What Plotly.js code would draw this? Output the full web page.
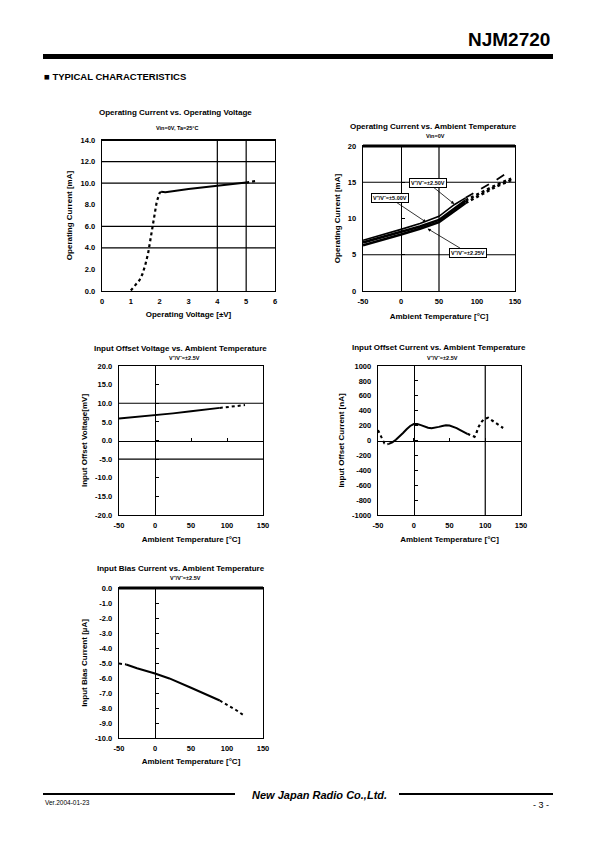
<!DOCTYPE html>
<html>
<head>
<meta charset="utf-8">
<script src="https://cdn.plot.ly/plotly-3.0.1.min.js"></script>
<style>
html,body{margin:0;padding:0;background:#fff;}
#chart{width:595px;height:842px;}
</style>
</head>
<body>
<div id="chart"></div>
<script>
// ---------------- DATA ----------------
// Chart 1: Operating Current vs. Operating Voltage
const c1VoltRise = [1.0, 1.1, 1.2, 1.3, 1.4, 1.5, 1.6, 1.7, 1.8, 1.9, 2.0, 2.05];
const c1CurrRise = [0.05, 0.4, 0.75, 1.0, 1.55, 2.4, 3.5, 5.1, 6.7, 8.3, 9.1, 9.2];
const c1VoltFlat = [2.05, 2.2, 3.0, 4.0, 5.0];
const c1CurrFlat = [9.2, 9.15, 9.45, 9.75, 10.05];
const c1VoltExt = [5.0, 5.35];
const c1CurrExt = [10.05, 10.2];

// Chart 2: Operating Current vs. Ambient Temperature
const c2Temp = [-50, -25, 0, 25, 50, 70, 85];
const c2TempExt = [85, 100, 125, 145];
const c2Icc250 = [7.0, 7.7, 8.5, 9.3, 10.3, 11.9, 12.85];
const c2Icc250Ext = [12.85, 13.8, 15.3, 16.7];
const c2Icc500 = [6.7, 7.4, 8.1, 8.9, 9.8, 11.3, 12.5];
const c2Icc500Ext = [12.5, 13.3, 14.6, 15.5];
const c2Icc225 = [6.3, 7.0, 7.8, 8.6, 9.5, 11.0, 12.15];
const c2Icc225Ext = [12.15, 13.0, 14.4, 15.3];
const c2Labels = ["V⁺/V⁻=±2.50V", "V⁺/V⁻=±5.00V", "V⁺/V⁻=±2.25V"];
const c2LabelTemp = [70, 33, 35];
const c2LabelIcc = [12.0, 9.5, 8.6];

// Chart 3: Input Offset Voltage vs. Ambient Temperature
const c3Temp = [-50, -25, 0, 25, 50, 75, 90];
const c3Vio = [5.9, 6.3, 6.8, 7.3, 7.85, 8.4, 8.75];
const c3TempExt = [90, 110, 125];
const c3VioExt = [8.75, 9.2, 9.5];

// Chart 4: Input Offset Current vs. Ambient Temperature
const c4TempL = [-50, -47, -44, -41, -38, -35];
const c4IioL = [140, 80, 10, -40, -52, -45];
const c4Temp = [-35, -30, -25, -20, -15, -10, -5, 0, 5, 10, 15, 20, 25, 30, 35, 40, 45, 50, 55, 60, 65, 70, 75];
const c4Iio = [-45, -25, 10, 50, 100, 150, 195, 220, 220, 207, 187, 172, 165, 170, 183, 194, 203, 200, 187, 166, 140, 115, 90];
const c4TempR = [75, 80, 85, 87, 90, 94, 98, 104, 111, 118, 125];
const c4IioR = [90, 70, 50, 80, 170, 240, 285, 305, 258, 205, 168];

// Chart 5: Input Bias Current vs. Ambient Temperature
const c5TempL = [-50, -40];
const c5IbL = [-5.04, -5.1];
const c5Temp = [-40, -25, 0, 20, 50, 70, 90];
const c5Ib = [-5.1, -5.35, -5.7, -6.03, -6.65, -7.05, -7.5];
const c5TempR = [90, 113, 125];
const c5IbR = [-7.5, -8.15, -8.55];

// Grid lines
const grid1X = [4, 5];
const grid1Y = [4, 6, 10, 12];
const grid2X = [50];
const grid2Y = [5, 15];
const grid3Y = [10, -5];
const grid4X = [100];

// Tick values
const voltTicks = [0, 1, 2, 3, 4, 5, 6];
const tempTicks = [-50, 0, 50, 100, 150];
const c1TickVals = [0, 2, 4, 6, 8, 10, 12, 14];
const c2TickVals = [0, 5, 10, 15, 20];
const c3TickVals = [20, 15, 10, 5, 0, -5, -10, -15, -20];
const c4TickVals = [1000, 800, 600, 400, 200, 0, -200, -400, -600, -800, -1000];
const c5TickVals = [0, -1, -2, -3, -4, -5, -6, -7, -8, -9, -10];

// ---------------- LAYOUT HELPERS ----------------
const W = 595, H = 842;
const FONT = "Liberation Sans, Arial, sans-serif";
function dx(l, r) { return [l / W, r / W]; }
function dy(t, b) { return [1 - b / H, 1 - t / H]; }
function px(x) { return x / W; }
function py(y) { return 1 - y / H; }

const boxes = {
  1: {x: dx(102, 275), y: dy(140, 291), xr: [0, 6], yr: [0, 14]},
  2: {x: dx(363, 515), y: dy(146, 291), xr: [-50, 150], yr: [0, 20]},
  3: {x: dx(119, 263), y: dy(366, 515), xr: [-50, 150], yr: [-20, 20]},
  4: {x: dx(378, 521), y: dy(366, 515), xr: [-50, 150], yr: [-1000, 1000]},
  5: {x: dx(119, 263), y: dy(588, 738), xr: [-50, 150], yr: [-10, 0]}
};

const tickFont = {family: FONT, size: 7.5, color: "#000", weight: "bold"};
const titleFont = {family: FONT, size: 8, color: "#000", weight: "bold"};

function xAxis(n, title, vals, anchor, standoff) {
  const b = boxes[n];
  return {
    domain: b.x, range: b.xr, tickvals: vals, ticktext: vals.map(v => String(v)), anchor: anchor,
    showgrid: false, zeroline: false, showline: true, mirror: true,
    linecolor: "#000", linewidth: 1.3, ticks: "", tickfont: tickFont, ticklabelstandoff: 3,
    title: {text: title, font: titleFont, standoff: standoff}, fixedrange: true
  };
}
function yAxis(n, title, vals, digits, anchor, standoff) {
  const b = boxes[n];
  return {
    domain: b.y, range: b.yr, anchor: anchor,
    tickvals: vals, ticktext: vals.map(v => v.toFixed(digits)),
    showgrid: false, zeroline: false, showline: true, mirror: true,
    linecolor: "#000", linewidth: 1.3, ticks: "", tickfont: tickFont, ticklabelstandoff: 4,
    title: {text: title, font: titleFont, standoff: standoff}, fixedrange: true
  };
}

const layout = {
  width: W, height: H, margin: {l: 0, r: 0, t: 0, b: 0},
  paper_bgcolor: "#fff", plot_bgcolor: "#fff", showlegend: false,
  font: {family: FONT, color: "#000"},
  xaxis: xAxis(1, "Operating Voltage [±V]", voltTicks, "y", 6),
  yaxis: yAxis(1, "Operating Current [mA]", c1TickVals, 1, "x", 6),
  xaxis2: xAxis(2, "Ambient Temperature [°C]", tempTicks, "y2", 8),
  yaxis2: yAxis(2, "Operating Current [mA]", c2TickVals, 0, "x2", 6),
  xaxis3: xAxis(3, "Ambient Temperature [°C]", tempTicks, "y3", 7),
  yaxis3: yAxis(3, "Input Offset Voltage[mV]", c3TickVals, 1, "x3", 6),
  xaxis4: xAxis(4, "Ambient Temperature [°C]", tempTicks, "y4", 7),
  yaxis4: yAxis(4, "Input Offset Current [nA]", c4TickVals, 0, "x4", 6),
  xaxis5: xAxis(5, "Ambient Temperature [°C]", tempTicks, "y5", 6),
  yaxis5: yAxis(5, "Input Bias Current [µA]", c5TickVals, 1, "x5", 6),
  shapes: [],
  annotations: []
};

// zero-crossing axes (Excel style) with inside ticks
const extraTraces = [];
function zeroYAxis(num, n, dtick) {
  const b = boxes[n];
  const pos = b.x[0] + (0 - b.xr[0]) / (b.xr[1] - b.xr[0]) * (b.x[1] - b.x[0]);
  layout["yaxis" + num] = {
    overlaying: "y" + n, anchor: "free", position: pos, side: "left",
    range: b.yr, dtick: dtick, tick0: 0, ticks: "inside", ticklen: 3, tickwidth: 1,
    tickcolor: "#000", showticklabels: false, showline: true, linecolor: "#000",
    linewidth: 1.2, showgrid: false, zeroline: false, fixedrange: true
  };
  extraTraces.push({type: "scatter", x: [], y: [], xaxis: "x" + n, yaxis: "y" + num, hoverinfo: "skip", showlegend: false});
}
function zeroXAxis(num, n, dtick) {
  const b = boxes[n];
  const pos = b.y[0] + (0 - b.yr[0]) / (b.yr[1] - b.yr[0]) * (b.y[1] - b.y[0]);
  layout["xaxis" + num] = {
    overlaying: "x" + n, anchor: "free", position: pos, side: "bottom",
    range: b.xr, dtick: dtick, tick0: 0, ticks: "inside", ticklen: 3, tickwidth: 1,
    tickcolor: "#000", showticklabels: false, showline: true, linecolor: "#000",
    linewidth: 1.2, showgrid: false, zeroline: false, fixedrange: true
  };
  extraTraces.push({type: "scatter", x: [], y: [], xaxis: "x" + num, yaxis: "y" + n, hoverinfo: "skip", showlegend: false});
}
zeroYAxis(6, 2, 5);
zeroYAxis(7, 3, 5);
zeroXAxis(8, 3, 50);
zeroYAxis(9, 4, 200);
zeroXAxis(10, 4, 50);
zeroYAxis(11, 5, 1);

// grid lines
function vGrid(n, vals) {
  const xr = n === 1 ? "x" : "x" + n, yr = (n === 1 ? "y" : "y" + n) + " domain";
  vals.forEach(v => layout.shapes.push({type: "line", xref: xr, yref: yr, x0: v, x1: v, y0: 0, y1: 1, line: {color: "#000", width: 1.2}}));
}
function hGrid(n, vals) {
  const xr = (n === 1 ? "x" : "x" + n) + " domain", yr = n === 1 ? "y" : "y" + n;
  vals.forEach(v => layout.shapes.push({type: "line", xref: xr, yref: yr, x0: 0, x1: 1, y0: v, y1: v, line: {color: "#000", width: 1.2}}));
}
vGrid(1, grid1X); hGrid(1, grid1Y);
vGrid(2, grid2X); hGrid(2, grid2Y);
hGrid(3, grid3Y);
vGrid(4, grid4X);

// thick top borders
[1, 2, 5].forEach(n => {
  const xr = (n === 1 ? "x" : "x" + n) + " domain", yr = (n === 1 ? "y" : "y" + n) + " domain";
  layout.shapes.push({type: "line", xref: xr, yref: yr, x0: 0, x1: 1, y0: 1, y1: 1, line: {color: "#000", width: n === 1 ? 2 : 3}});
});

// chart titles & subtitles
function note(text, x, y, size, opts) {
  layout.annotations.push(Object.assign({
    text: text, xref: "paper", yref: "paper", x: px(x), y: py(y),
    xanchor: "center", yanchor: "middle", showarrow: false,
    font: {family: FONT, size: size, color: "#000", weight: "bold"}
  }, opts || {}));
}
note("Operating Current vs. Operating Voltage", 175, 112.5, 8);
note("Vin=0V, Ta=25°C", 177, 128, 5.5);
note("Operating Current vs. Ambient Temperature", 433, 126.5, 8);
note("Vin=0V", 436, 135.5, 5.5);
note("Input Offset Voltage vs. Ambient Temperature", 180, 348, 8);
note("V⁺/V⁻=±2.5V", 184, 358, 5.5);
note("Input Offset Current vs. Ambient Temperature", 439, 347.5, 8);
note("V⁺/V⁻=±2.5V", 442, 357.5, 5.5);
note("Input Bias Current vs. Ambient Temperature", 181, 568, 8);
note("V⁺/V⁻=±2.5V", 185, 578, 5.5);

// header / footer
note("NJM2720", 552, 39.5, 19, {xanchor: "right"});
layout.shapes.push({type: "rect", xref: "paper", yref: "paper", x0: px(43), x1: px(553), y0: py(59), y1: py(54), fillcolor: "#000", line: {width: 0}});
note("■ TYPICAL CHARACTERISTICS", 42, 77, 9.5, {xanchor: "left"});
layout.shapes.push({type: "line", xref: "paper", yref: "paper", x0: px(43), x1: px(235), y0: py(794), y1: py(794), line: {color: "#000", width: 2}});
layout.shapes.push({type: "line", xref: "paper", yref: "paper", x0: px(399), x1: px(553), y0: py(794), y1: py(794), line: {color: "#000", width: 2}});
note("New Japan Radio Co.,Ltd.", 319, 795, 11, {font: {family: FONT, size: 11, color: "#000", weight: "bold", style: "italic"}});
note("Ver.2004-01-23", 43, 802, 6.5, {xanchor: "left", font: {family: FONT, size: 6.5, color: "#000"}});
note("- 3 -", 551, 805, 9, {xanchor: "right", font: {family: FONT, size: 9, color: "#000"}});

// chart 2 labels with arrows
const c2Off = [[-26, -21], [-36, -24], [40, 24]];
c2Labels.forEach((t, i) => {
  layout.annotations.push({
    text: t, x: c2LabelTemp[i], y: c2LabelIcc[i], xref: "x2", yref: "y2",
    showarrow: true, arrowhead: 2, arrowsize: 0.8, arrowwidth: 0.8, arrowcolor: "#000",
    ax: c2Off[i][0], ay: c2Off[i][1], bgcolor: "#fff", bordercolor: "#000", borderwidth: 1, borderpad: 1,
    font: {family: FONT, size: 5.5, color: "#000", weight: "bold"}
  });
});

// ---------------- TRACES ----------------
function line(x, y, xa, ya, dash, width) {
  return {type: "scatter", mode: "lines", x: x, y: y, xaxis: xa, yaxis: ya,
    line: {color: "#000", width: width || 2, dash: dash || "solid"}, hoverinfo: "skip", showlegend: false};
}
const traces = [
  line(c1VoltRise, c1CurrRise, "x", "y", "dot", 2.2),
  line(c1VoltFlat, c1CurrFlat, "x", "y", "solid", 2),
  line(c1VoltExt, c1CurrExt, "x", "y", "dot", 2.2),

  line(c2Temp, c2Icc225, "x2", "y2", "solid", 2.6),
  line(c2TempExt, c2Icc225Ext, "x2", "y2", "dot", 2.6),
  line(c2Temp, c2Icc500, "x2", "y2", "solid", 2.6),
  line(c2TempExt, c2Icc500Ext, "x2", "y2", "dot", 2.6),
  line(c2Temp, c2Icc250, "x2", "y2", "solid", 1.6),
  line(c2TempExt, c2Icc250Ext, "x2", "y2", "dash", 1.8),

  line(c3Temp, c3Vio, "x3", "y3", "solid", 1.8),
  line(c3TempExt, c3VioExt, "x3", "y3", "dot", 2),

  line(c4TempL, c4IioL, "x4", "y4", "dot", 2),
  line(c4Temp, c4Iio, "x4", "y4", "solid", 2),
  line(c4TempR, c4IioR, "x4", "y4", "dot", 2.2),

  line(c5TempL, c5IbL, "x5", "y5", "dot", 2),
  line(c5Temp, c5Ib, "x5", "y5", "solid", 2),
  line(c5TempR, c5IbR, "x5", "y5", "dot", 2)
].concat(extraTraces);

Plotly.newPlot("chart", traces, layout, {staticPlot: true, displayModeBar: false});
</script>
</body>
</html>
